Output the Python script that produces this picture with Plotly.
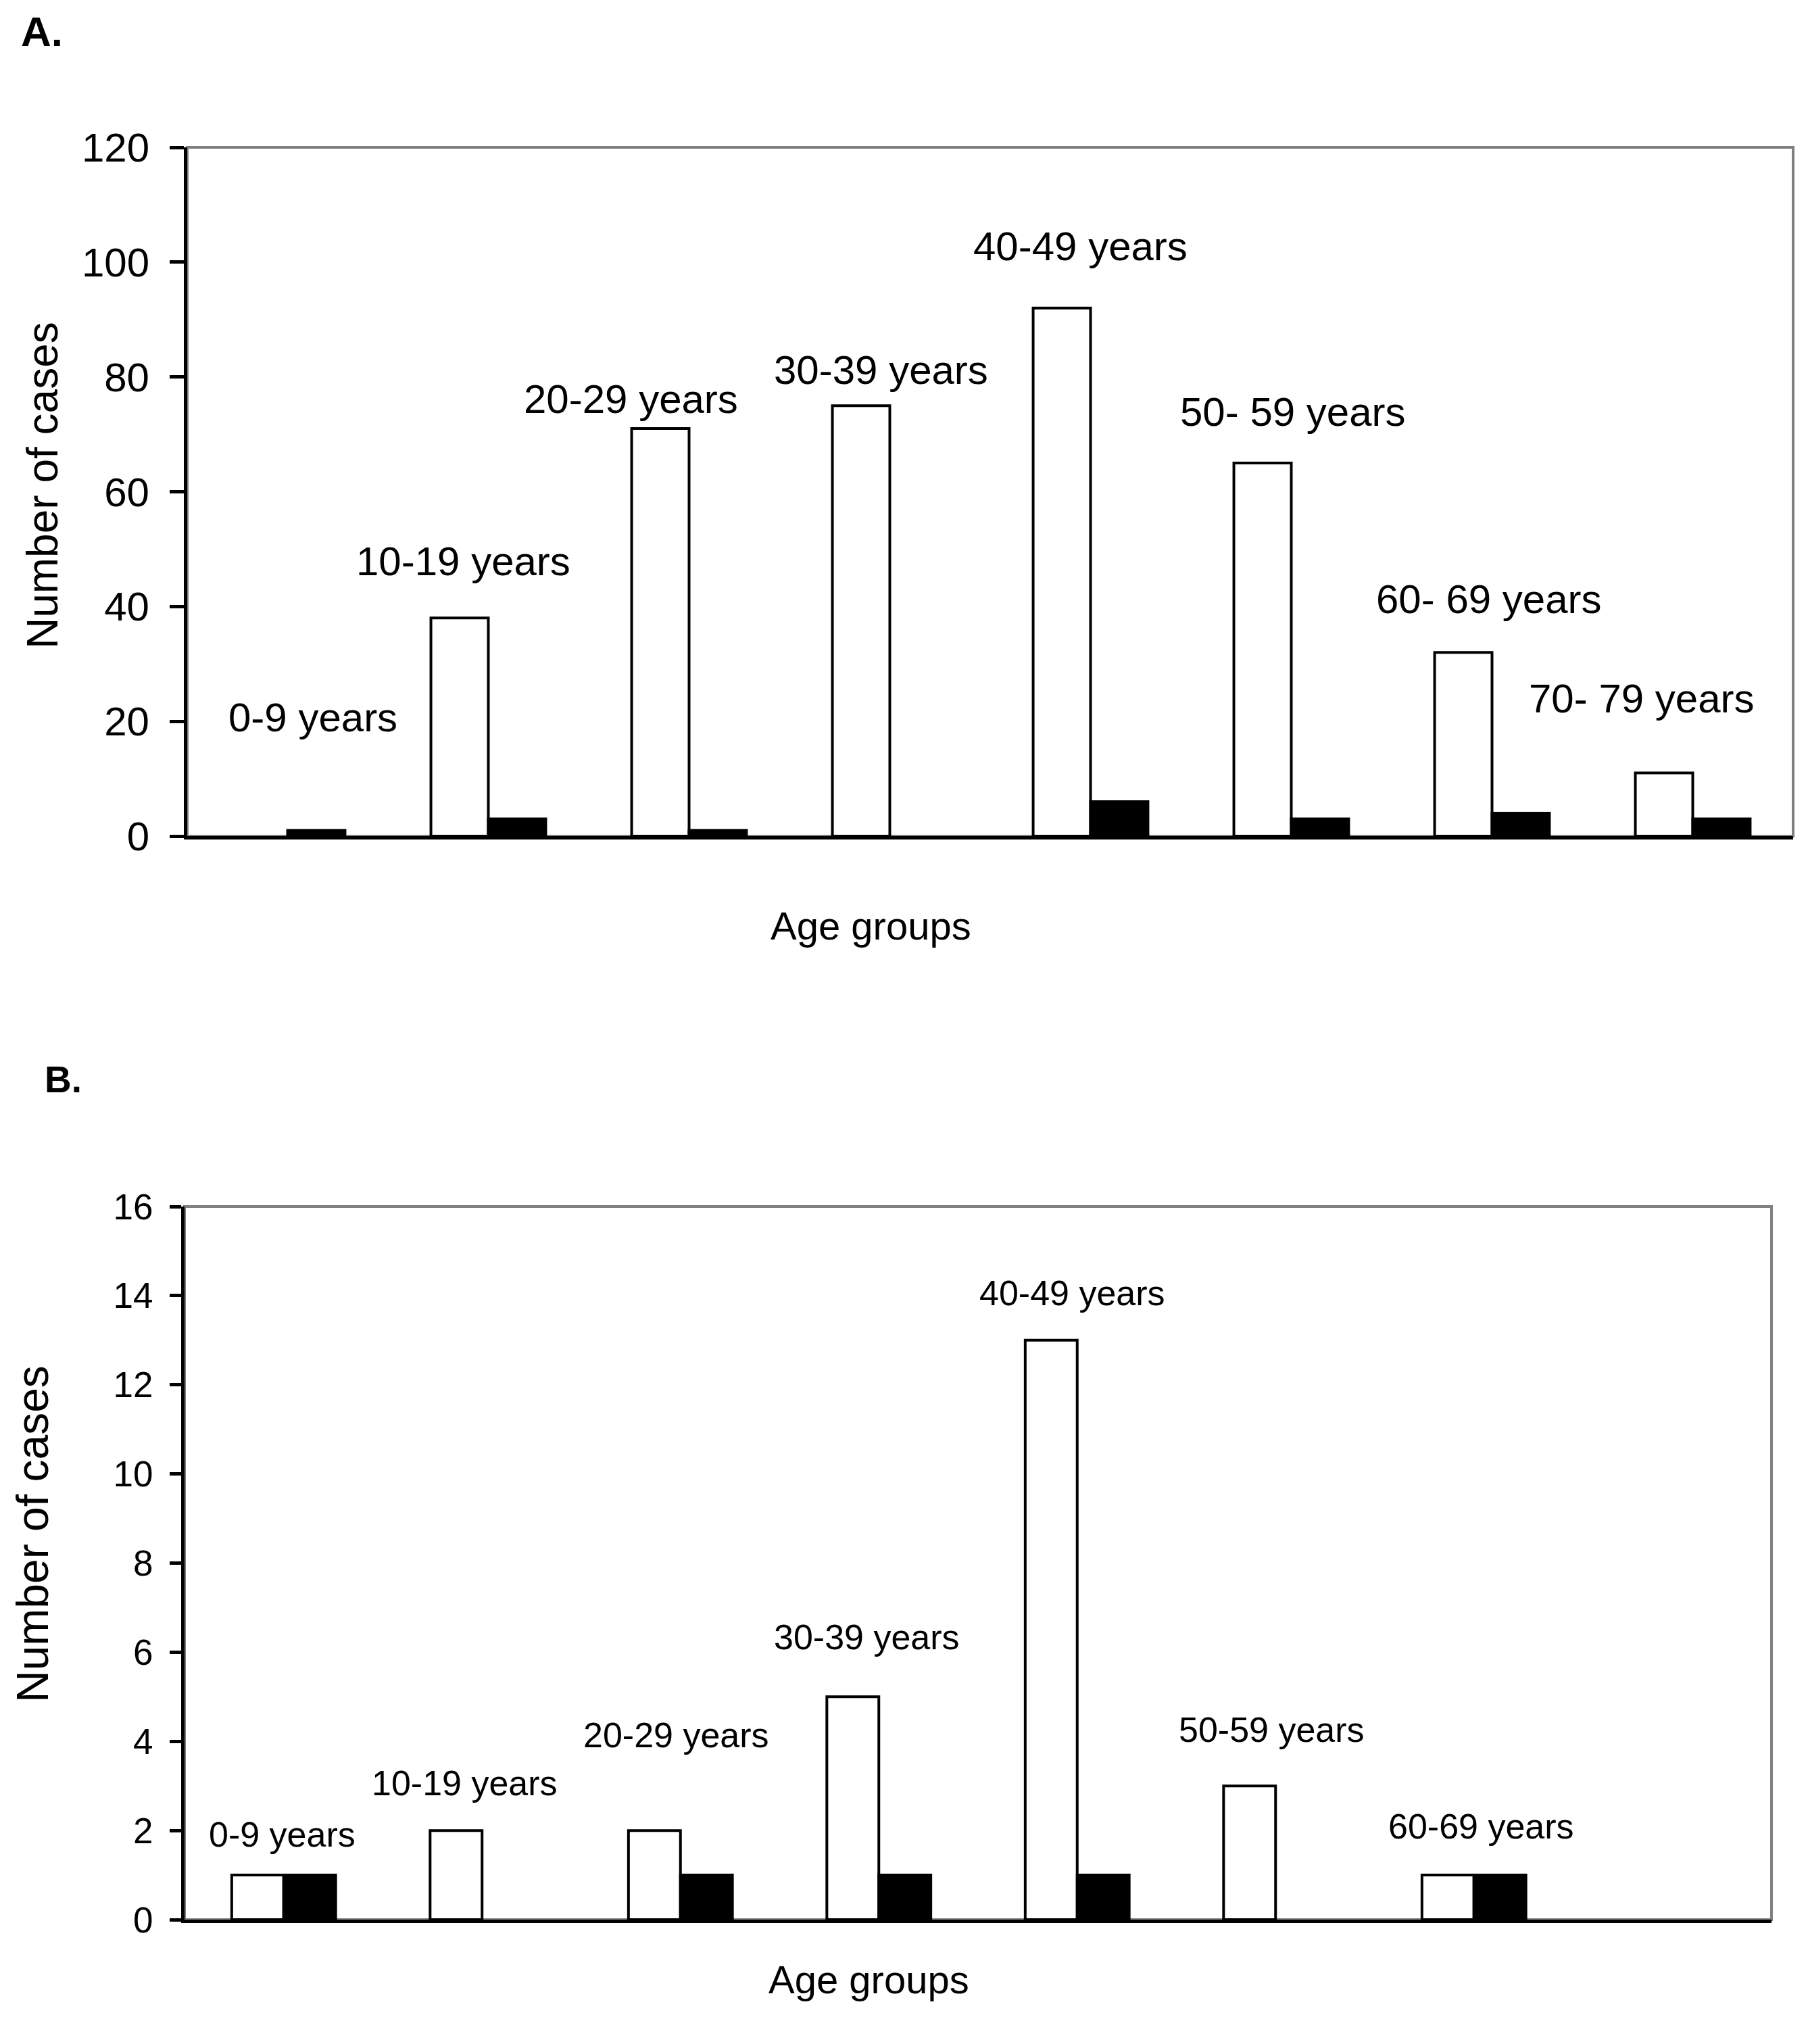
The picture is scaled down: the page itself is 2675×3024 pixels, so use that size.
import plotly.graph_objects as go

# Age-group bar charts, panels A and B

AGE_GROUPS = ["0-9", "10-19", "20-29", "30-39", "40-49", "50-59", "60-69", "70-79"]

A_WHITE = [0, 38, 71, 75, 92, 65, 32, 11]
A_BLACK = [1, 3, 1, 0, 6, 3, 4, 3]
A_LABELS = ["0-9 years", "10-19 years", "20-29 years", "30-39 years",
            "40-49 years", "50- 59 years", "60- 69 years", "70- 79 years"]
A_TICKS = [0, 20, 40, 60, 80, 100, 120]

B_WHITE = [1, 2, 2, 5, 13, 3, 1, 0]
B_BLACK = [1, 0, 1, 1, 1, 0, 1, 0]
B_LABELS = ["0-9 years", "10-19 years", "20-29 years", "30-39 years",
            "40-49 years", "50-59 years", "60-69 years"]
B_TICKS = [0, 2, 4, 6, 8, 10, 12, 14, 16]

# where each group label sits (category position, value units)
A_LABEL_POS = [(0.126, 20.7), (0.874, 47.9), (1.712, 76.1), (2.955, 81.2),
               (3.948, 102.7), (5.008, 73.9), (5.985, 41.3), (6.746, 24.0)]
B_LABEL_POS = [(-0.009, 1.91), (0.911, 3.06), (1.977, 4.14), (2.941, 6.34),
               (3.974, 14.06), (4.982, 4.26), (6.035, 2.09)]

W, H = 2675, 3024
PAGE_PAD = 8  # the page body margin pushes the figure right/down by this much
SANS = "Liberation Sans, Arial"
GRAY = "#808080"


def px_x(x):
    return (x - PAGE_PAD) / W


def px_y(y):
    return 1 - (y - PAGE_PAD) / H


def add_panel(fig, white, black, bar_w, xa, ya):
    # zero-height bars get no outline, so nothing pokes above the axis
    fig.add_trace(go.Bar(
        x=AGE_GROUPS, y=white, width=bar_w, offset=-bar_w,
        marker=dict(color="white",
                    line=dict(color="black", width=[4 if v else 0 for v in white])),
        name="white", showlegend=False, xaxis=xa, yaxis=ya,
    ))
    fig.add_trace(go.Bar(
        x=AGE_GROUPS, y=black, width=bar_w, offset=0,
        marker=dict(color="black",
                    line=dict(color="black", width=[4 if v else 0 for v in black])),
        name="black", showlegend=False, xaxis=xa, yaxis=ya,
    ))


fig = go.Figure()
add_panel(fig, A_WHITE, A_BLACK, 0.286, "x", "y")
add_panel(fig, B_WHITE, B_BLACK, 0.262, "x2", "y2")

xcommon = dict(type="category", range=[-0.5, 7.5], showticklabels=False,
               ticks="", showgrid=False, zeroline=False, showline=True,
               linecolor="black", linewidth=5, automargin=False)

fig.update_layout(
    width=W, height=H,
    margin=dict(l=0, r=0, t=0, b=0),
    paper_bgcolor="white", plot_bgcolor="white",
    barmode="overlay",
    showlegend=False,
    xaxis=dict(domain=[px_x(277), px_x(2653)], anchor="y", **xcommon),
    yaxis=dict(domain=[px_y(1237), px_y(218)], anchor="x",
               range=[0, 120], tickvals=A_TICKS, ticks="outside",
               ticklen=21, tickwidth=5, tickcolor="black",
               ticklabelstandoff=18, automargin=False,
               tickfont=dict(family=SANS, size=60, color="black"),
               showgrid=False, zeroline=False, showline=True,
               linecolor="black", linewidth=5),
    xaxis2=dict(domain=[px_x(273), px_x(2621)], anchor="y2", **xcommon),
    yaxis2=dict(domain=[px_y(2840), px_y(1785)], anchor="x2",
                range=[0, 16], tickvals=B_TICKS, ticks="outside",
                ticklen=17, tickwidth=5, tickcolor="black",
                ticklabelstandoff=14, automargin=False,
                tickfont=dict(family=SANS, size=53, color="black"),
                showgrid=False, zeroline=False, showline=True,
                linecolor="black", linewidth=5),
)

# gray frame on top/right of each plot area
for xr, yr in (("x domain", "y domain"), ("x2 domain", "y2 domain")):
    fig.add_shape(type="rect", xref=xr, yref=yr, x0=0, x1=1, y0=0, y1=1,
                  line=dict(color=GRAY, width=4), layer="below")

for text, (px, py) in zip(A_LABELS, A_LABEL_POS):
    fig.add_annotation(x=px, y=py, xref="x", yref="y", text=text,
                       showarrow=False, xanchor="center", yanchor="middle",
                       font=dict(family=SANS, size=60, color="black"))
for text, (px, py) in zip(B_LABELS, B_LABEL_POS):
    fig.add_annotation(x=px, y=py, xref="x2", yref="y2", text=text,
                       showarrow=False, xanchor="center", yanchor="middle",
                       font=dict(family=SANS, size=52, color="black"))


def paper_text(text, px, py, size, bold=False, angle=0):
    fig.add_annotation(
        x=px_x(px), y=px_y(py), xref="paper", yref="paper",
        text=f"<b>{text}</b>" if bold else text, textangle=angle,
        showarrow=False, xanchor="center", yanchor="middle",
        font=dict(family=SANS, size=size, color="black"),
    )


# panel letters and axis titles (pixel centres)
paper_text("A.", 62, 47, 62, bold=True)
paper_text("B.", 94, 1597, 55, bold=True)
paper_text("Number of cases", 63, 718, 64, angle=-90)
paper_text("Number of cases", 48, 2270, 66, angle=-90)
paper_text("Age groups", 1288, 1370, 58)
paper_text("Age groups", 1285, 2928, 58)

fig.write_html("out.html")
